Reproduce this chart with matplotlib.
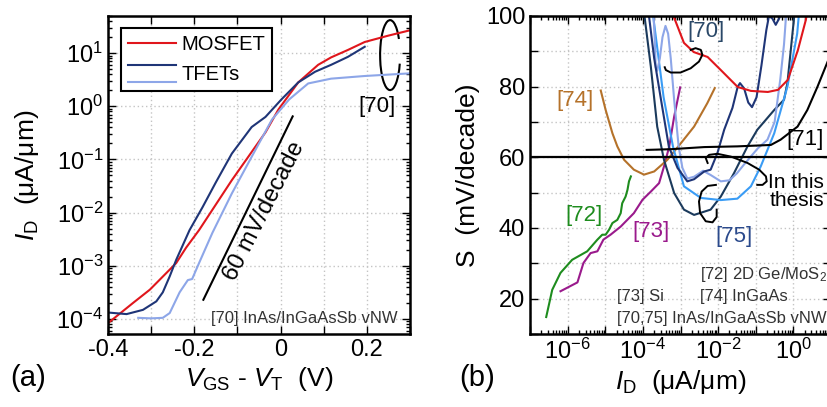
import numpy as np
import matplotlib.pyplot as plt
from matplotlib.patches import Arc
from matplotlib.lines import Line2D
from matplotlib.legend_handler import HandlerBase
from matplotlib.ticker import MultipleLocator, LogLocator, FuncFormatter, NullFormatter, LogFormatterMathtext

plt.rcParams['font.family'] = ['Liberation Sans', 'DejaVu Sans']
plt.rcParams['mathtext.fontset'] = 'custom'
plt.rcParams['mathtext.rm'] = 'Liberation Sans'
plt.rcParams['mathtext.it'] = 'Liberation Sans:italic'
plt.rcParams['axes.unicode_minus'] = False

# ---- panel (a): transfer curves, V_GS - V_T (V) vs log10 I_D (uA/um)
mos_v = [-0.40, -0.342, -0.303, -0.242, -0.219, -0.189, -0.113, -0.035, -0.005, 0.041, 0.087, 0.117, 0.156, 0.195, 0.25, 0.30]
mos_logi = [-4.08, -3.70, -3.45, -2.95, -2.66, -2.33, -1.39, -0.49, -0.06, 0.45, 0.78, 0.92, 1.06, 1.21, 1.33, 1.43]

tfet1_v = [-0.40, -0.357, -0.319, -0.288, -0.273, -0.257, -0.242, -0.211, -0.181, -0.15, -0.113, -0.067, -0.035, 0.002, 0.041, 0.08, 0.117, 0.156, 0.195]
tfet1_logi = [-3.88, -3.91, -3.83, -3.67, -3.50, -3.20, -2.89, -2.33, -1.90, -1.43, -0.89, -0.39, -0.20, 0.13, 0.45, 0.65, 0.78, 0.93, 1.12]

tfet2_v = [-0.33, -0.30, -0.273, -0.257, -0.234, -0.215, -0.205, -0.189, -0.158, -0.113, -0.067, -0.02, 0.02, 0.064, 0.117, 0.195, 0.30]
tfet2_logi = [-3.98, -3.99, -3.98, -3.89, -3.50, -3.27, -3.25, -2.95, -2.38, -1.64, -0.95, -0.25, 0.13, 0.43, 0.52, 0.57, 0.62]

slope_v = [-0.179, 0.028]
slope_logi = [-3.64, -0.19]

# ---- panel (b): S (mV/decade) vs log10 I_D (uA/um)
ref72_logi = [-6.57, -6.41, -6.19, -5.88, -5.48, -5.21, -5.08, -4.99, -4.90, -4.81, -4.68, -4.59, -4.55, -4.46, -4.41, -4.37, -4.32]
ref72_s = [14.8, 22.5, 27.3, 31.0, 33.4, 36.7, 38.1, 38.1, 39.5, 41.4, 42.3, 44.2, 47.0, 48.9, 50.8, 53.2, 54.6]

ref73_logi = [-6.19, -5.74, -5.58, -5.39, -5.21, -5.05, -4.86, -4.59, -4.24, -4.01, -3.79, -3.57, -3.44, -3.30, -3.17, -3.01]
ref73_s = [22.1, 24.6, 30.1, 32.9, 33.4, 36.7, 38.1, 40.4, 44.2, 48.0, 50.3, 52.7, 57.4, 63.1, 71.5, 79.8]

ref74_logi = [-5.12, -4.99, -4.81, -4.68, -4.50, -4.24, -3.97, -3.70, -3.35, -2.99, -2.64, -2.29, -2.09]
ref74_s = [78.9, 73.4, 66.8, 63.1, 59.3, 56.5, 55.1, 56.0, 59.3, 64.0, 68.7, 75.3, 79.6]

ref71_logi = [-3.90, -3.26, -2.37, -1.49, -0.60, -0.34, 0.11, 0.37, 0.64, 0.91, 1.05]
ref71_s = [62.1, 62.3, 62.9, 63.1, 63.5, 65.0, 68.7, 73.4, 80.0, 87.1, 90.5]

mos70_logi = [-3.22, -3.18, -2.91, -2.65, -2.28, -1.93, -1.48, -1.13, -0.68, -0.41, -0.15, 0.12, 0.33, 0.36]
mos70_s = [101, 99.8, 92.4, 89.8, 88.4, 84.7, 79.9, 78.8, 78.5, 79.1, 81.9, 90.4, 98.9, 101]

tfet70a_logi = [-3.85, -3.70, -3.53, -3.31, -3.08, -2.82, -2.64, -2.37, -2.20, -2.02, -1.84, -1.62, -1.48, -1.42, -1.31, -1.20, -1.10, -0.98, -0.85, -0.72, -0.65, -0.56, -0.47, -0.38, -0.33]
tfet70a_s = [101, 88, 77, 63, 57, 53.2, 53.8, 56.0, 56.5, 61.2, 67.8, 74, 80, 81.0, 79.5, 75.5, 74.2, 77, 86, 96, 100, 99.3, 97.5, 99.3, 101]

tfet70b_logi = [-3.72, -3.68, -3.66, -3.62, -3.55, -3.48, -3.40, -3.33, -3.26, -3.17, -3.05, -2.95, -2.82, -2.64, -2.40, -2.20, -1.93, -1.70, -1.50, -1.31, -0.95, -0.69, -0.50, -0.35, -0.25, -0.19]
tfet70b_s = [101, 92, 85.5, 84.5, 88, 94, 97.2, 95, 88, 76.3, 63, 57, 54, 54.5, 56.2, 55, 53.2, 53.5, 55.5, 58, 62.5, 65, 70, 82, 92, 101]

thesis_logi = [-3.74, -3.45, -3.20, -2.91, -2.46, -1.93, -1.49, -1.13, -0.87, -0.51, -0.16, 0.10, 0.15]
thesis_s = [101, 77, 63, 51.8, 48.5, 47.9, 48.3, 51.8, 57.4, 66.8, 80.0, 95, 101]

ref75_logi = [-3.97, -3.79, -3.62, -3.44, -3.17, -2.91, -2.64, -2.20, -1.93, -1.58, -1.22, -0.96, -0.51, -0.25, -0.16, -0.07, 0.02, 0.03]
ref75_s = [101, 85.7, 68.7, 59.3, 49.9, 45.2, 43.7, 45.2, 48.9, 55.5, 63.1, 67.8, 73.4, 76.3, 81.0, 90.4, 99.8, 101]

# pointer hooks drawn in panel (b)
hook70_logi = [-2.73, -2.60, -2.46, -2.42, -2.51, -2.73, -3.00, -3.26, -3.39, -3.42]
hook70_s = [90.4, 90.9, 90.4, 89.0, 87.1, 85.2, 84.0, 84.0, 84.7, 85.5]
hook_thesis_logi = [-2.28, -2.33, -2.24, -2.02, -1.66, -1.22, -0.91, -0.73, -0.71, -0.82, -0.96]
hook_thesis_s = [58.4, 59.8, 60.7, 61.0, 60.2, 58.4, 56.5, 54.6, 53.2, 52.2, 52.2]
hook75_logi = [-2.06, -2.28, -2.44, -2.51, -2.48, -2.33, -2.15, -2.04, -2.04]
hook75_s = [52.2, 51.9, 50.3, 47.5, 44.2, 41.9, 41.6, 43.1, 45.2]

c_red = '#e0161c'
c_navy = '#1f3577'
c_light = '#8da6e8'
c_bright = '#3a9cf5'
c_slate = '#1b3a5c'
c_green = '#1e8c1e'
c_purple = '#9a1a8c'
c_brown = '#b5722a'

lw = 1.5
grid_kw = dict(color='#c4c4c4', linestyle=(0, (1, 2)), linewidth=1.0)


class PairHandler(HandlerBase):
    def create_artists(self, legend, orig_handle, xdescent, ydescent, width, height, fontsize, trans):
        top, bottom = orig_handle
        out = []
        for h, frac in ((top, 1.05), (bottom, -0.15)):
            y = -ydescent + frac * height
            ln = Line2D([-xdescent, -xdescent + width], [y, y], color=h.get_color(), lw=h.get_linewidth())
            ln.set_transform(trans)
            out.append(ln)
        return out


def style_axes(ax):
    for sp in ax.spines.values():
        sp.set_linewidth(1.8)
    ax.tick_params(which='both', direction='in', top=True, right=True, labelsize=17, width=1.0)
    ax.tick_params(which='major', length=6)
    ax.tick_params(which='minor', length=3)
    ax.grid(True, which='major', **grid_kw)
    ax.set_axisbelow(True)


fig = plt.figure(figsize=(8.27, 4.07), dpi=100)
ax1 = fig.add_axes([0.1306, 0.1794, 0.3652, 0.7813])
ax2 = fig.add_axes([0.6409, 0.1794, 0.3640, 0.7813])

# ---------------- panel (a)
h_mos, = ax1.plot(mos_v, 10 ** np.array(mos_logi), color=c_red, lw=lw)
h_t1, = ax1.plot(tfet1_v, 10 ** np.array(tfet1_logi), color=c_navy, lw=lw)
h_t2, = ax1.plot(tfet2_v, 10 ** np.array(tfet2_logi), color=c_light, lw=lw)
ax1.plot(slope_v, 10 ** np.array(slope_logi), color='black', lw=lw)
ax1.set_yscale('log')
ax1.set_xlim(-0.4, 0.3)
ax1.set_ylim(5.2e-5, 50)
ax1.xaxis.set_major_locator(MultipleLocator(0.1))
ax1.xaxis.set_major_formatter(FuncFormatter(
    lambda v, p: ('%g' % round(v, 1)) if abs(round(v * 10)) % 2 == 0 else ''))
ax1.yaxis.set_major_locator(LogLocator(base=10, numticks=20))
ax1.yaxis.set_major_formatter(LogFormatterMathtext())
ax1.yaxis.set_minor_locator(LogLocator(base=10, subs=np.arange(2, 10), numticks=20))
ax1.yaxis.set_minor_formatter(NullFormatter())
style_axes(ax1)
ax1.set_xlabel(r'$V_{\mathrm{GS}}$ - $V_{\mathrm{T}}$  (V)', fontsize=19, labelpad=3)
ax1.set_ylabel(r'$I_{\mathrm{D}}$  (μA/μm)', fontsize=19, labelpad=11)

leg = ax1.legend([h_mos, (h_t1, h_t2)], ['MOSFET', 'TFETs'], handler_map={tuple: PairHandler()},
                 loc='upper left', bbox_to_anchor=(0.043, 0.962), borderaxespad=0,
                 fancybox=False, edgecolor='black', framealpha=1, fontsize=14.5,
                 handlelength=2.4, handletextpad=0.25, labelspacing=0.55, borderpad=0.35)
leg.get_frame().set_linewidth(1.5)

ax1.text(-0.037, 10 ** -1.97, '60 mV/decade', rotation=63, rotation_mode='anchor',
         ha='center', va='center', fontsize=17)
ax1.add_patch(Arc((0.934, 0.877), 0.066, 0.22, theta1=60, theta2=320,
                  transform=ax1.transAxes, color='black', lw=1.5))
ax1.text(0.891, 0.714, '[70]', transform=ax1.transAxes, ha='center', va='center', fontsize=16)
ax1.text(0.96, 0.05, '[70] InAs/InGaAsSb vNW', transform=ax1.transAxes, ha='right', va='center',
         fontsize=12, color='#333333')

# ---------------- panel (b)
curves_b = [
    (ref72_logi, ref72_s, c_green),
    (ref73_logi, ref73_s, c_purple),
    (ref74_logi, ref74_s, c_brown),
    (ref75_logi, ref75_s, c_slate),
    (thesis_logi, thesis_s, c_bright),
    (tfet70b_logi, tfet70b_s, c_light),
    (tfet70a_logi, tfet70a_s, c_navy),
    (mos70_logi, mos70_s, c_red),
    (ref71_logi, ref71_s, 'black'),
]
for li, s, c in curves_b:
    ax2.plot(10 ** np.array(li), s, color=c, lw=lw)
ax2.axhline(60, color='black', lw=1.6)
for li, s in ((hook70_logi, hook70_s), (hook_thesis_logi, hook_thesis_s), (hook75_logi, hook75_s)):
    ax2.plot(10 ** np.array(li), s, color='black', lw=1.4)

ax2.set_xscale('log')
ax2.set_xlim(1e-7, 1e1)
ax2.set_ylim(10, 100)
ax2.xaxis.set_major_locator(LogLocator(base=10, numticks=20))
ax2.xaxis.set_major_formatter(FuncFormatter(
    lambda v, p: (r'$10^{%d}$' % round(np.log10(v))) if round(np.log10(v)) % 2 == 0 else ''))
ax2.xaxis.set_minor_locator(LogLocator(base=10, subs=np.arange(2, 10), numticks=20))
ax2.xaxis.set_minor_formatter(NullFormatter())
ax2.yaxis.set_major_locator(MultipleLocator(10))
ax2.yaxis.set_major_formatter(FuncFormatter(lambda v, p: ('%d' % v) if round(v) % 20 == 0 else ''))
style_axes(ax2)
ax2.set_xlabel(r'$I_{\mathrm{D}}$  (μA/μm)', fontsize=19, labelpad=3)
ax2.set_ylabel('S  (mV/decade)', fontsize=19, labelpad=4)

ax2.text(0.150, 0.733, '[74]', transform=ax2.transAxes, ha='center', va='center', fontsize=16, color=c_brown)
ax2.text(0.179, 0.374, '[72]', transform=ax2.transAxes, ha='center', va='center', fontsize=16, color=c_green)
ax2.text(0.402, 0.321, '[73]', transform=ax2.transAxes, ha='center', va='center', fontsize=16, color=c_purple)
ax2.text(0.678, 0.305, '[75]', transform=ax2.transAxes, ha='center', va='center', fontsize=16, color='#2b4a8c')
ax2.text(0.585, 0.950, '[70]', transform=ax2.transAxes, ha='center', va='center', fontsize=16, color='#2a4868')
ax2.text(0.915, 0.613, '[71]', transform=ax2.transAxes, ha='center', va='center', fontsize=16)
ax2.text(0.791, 0.447, 'In this\nthesis', transform=ax2.transAxes, ha='left', va='center',
         multialignment='right', fontsize=15, linespacing=0.95)
small = dict(transform=ax2.transAxes, ha='left', va='center', fontsize=12, color='#333333')
ax2.text(0.565, 0.186, r'[72] 2D Ge/MoS$_2$', **small)
ax2.text(0.289, 0.119, '[73] Si', **small)
ax2.text(0.565, 0.119, '[74] InGaAs', **small)
ax2.text(0.289, 0.050, '[70,75] InAs/InGaAsSb vNW', **small)

fig.text(0.012, 0.071, '(a)', fontsize=21, ha='left', va='center')
fig.text(0.555, 0.071, '(b)', fontsize=21, ha='left', va='center')

fig.savefig('out.png', dpi=100)
